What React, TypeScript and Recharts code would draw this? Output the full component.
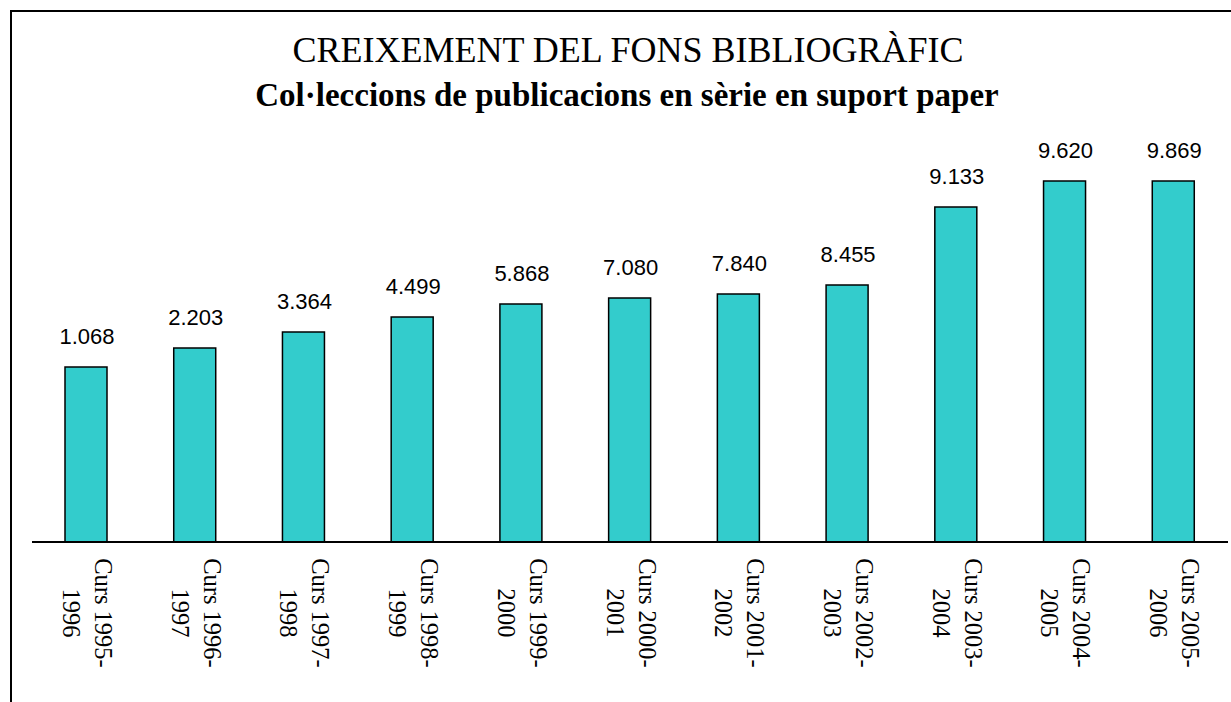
import React from 'react'
import { BarChart, Bar, XAxis, YAxis, LabelList } from 'recharts'

// academic years on the x axis, split in two lines like the original
const cursFirst = ['Curs 1995-', 'Curs 1996-', 'Curs 1997-', 'Curs 1998-', 'Curs 1999-', 'Curs 2000-', 'Curs 2001-', 'Curs 2002-', 'Curs 2003-', 'Curs 2004-', 'Curs 2005-']
const cursSecond = ['1996', '1997', '1998', '1999', '2000', '2001', '2002', '2003', '2004', '2005', '2006']

// printed values above each bar
const valueLabels = ['1.068', '2.203', '3.364', '4.499', '5.868', '7.080', '7.840', '8.455', '9.133', '9.620', '9.869']

// bar lengths as drawn in the picture (the original bars are not to scale with the printed values)
const barLengths = [175, 194, 210, 225, 238, 244, 248, 257, 335, 361, 361]

const data = cursFirst.map((c, i) => ({
  curs: c,
  curs2: cursSecond[i],
  length: barLengths[i],
  label: valueLabels[i],
}))

function CursTick({ x, y, index }: { x?: number; y?: number; index?: number }) {
  const i = index ?? 0
  return (
    <g transform={`translate(${x},${y})`}>
      <text
        transform="rotate(90)"
        textAnchor="middle"
        fontFamily="'Liberation Serif', serif"
        fontSize={24.5}
        fill="#000"
      >
        <tspan x={71} y={-8.5}>{cursFirst[i]}</tspan>
        <tspan x={71} y={23.5}>{cursSecond[i]}</tspan>
      </text>
    </g>
  )
}

function ValueLabel(props: any) {
  const { x, y, width, value } = props
  return (
    <text
      x={x + width / 2 + 1}
      y={y - 23}
      textAnchor="middle"
      fontFamily="'Liberation Sans', Arial, sans-serif"
      fontSize={22}
      fill="#000"
    >
      {value}
    </text>
  )
}

export default function App() {
  return (
    <div style={{ position: 'absolute', left: 0, top: 0, width: 1231, height: 702, background: '#fff', overflow: 'hidden' }}>
      {/* frame: only top and left edges are visible in the original */}
      <div
        style={{
          position: 'absolute',
          left: 10,
          top: 10,
          width: 1240,
          height: 720,
          borderTop: '2px solid #000',
          borderLeft: '2px solid #000',
        }}
      />
      <div
        style={{
          position: 'absolute',
          left: 0,
          width: 1256,
          top: 31,
          textAlign: 'center',
          fontFamily: "'Liberation Serif', 'Times New Roman', serif",
          fontSize: 36,
          lineHeight: '39px',
          color: '#000',
        }}
      >
        CREIXEMENT DEL FONS BIBLIOGRÀFIC
      </div>
      <div
        style={{
          position: 'absolute',
          left: 0,
          width: 1254,
          top: 77,
          textAlign: 'center',
          fontFamily: "'Liberation Serif', 'Times New Roman', serif",
          fontWeight: 'bold',
          fontSize: 33,
          lineHeight: '36px',
          color: '#000',
        }}
      >
        Col·leccions de publicacions en sèrie en suport paper
      </div>
      <div style={{ position: 'absolute', left: 0, top: 0 }}>
        <BarChart width={1231} height={702} data={data} margin={{ top: 142, right: 3, left: 32, bottom: 10 }}>
          <XAxis
            dataKey="curs"
            height={150}
            interval={0}
            tickLine={false}
            tickSize={0}
            tickMargin={0}
            axisLine={{ stroke: '#000', strokeWidth: 2 }}
            tick={<CursTick />}
          />
          <YAxis hide domain={[0, 400]} />
          <Bar dataKey="length" fill="#33CCCC" stroke="#000" strokeWidth={1.5} barSize={42} isAnimationActive={false}>
            <LabelList dataKey="label" content={<ValueLabel />} />
          </Bar>
        </BarChart>
      </div>
    </div>
  )
}
